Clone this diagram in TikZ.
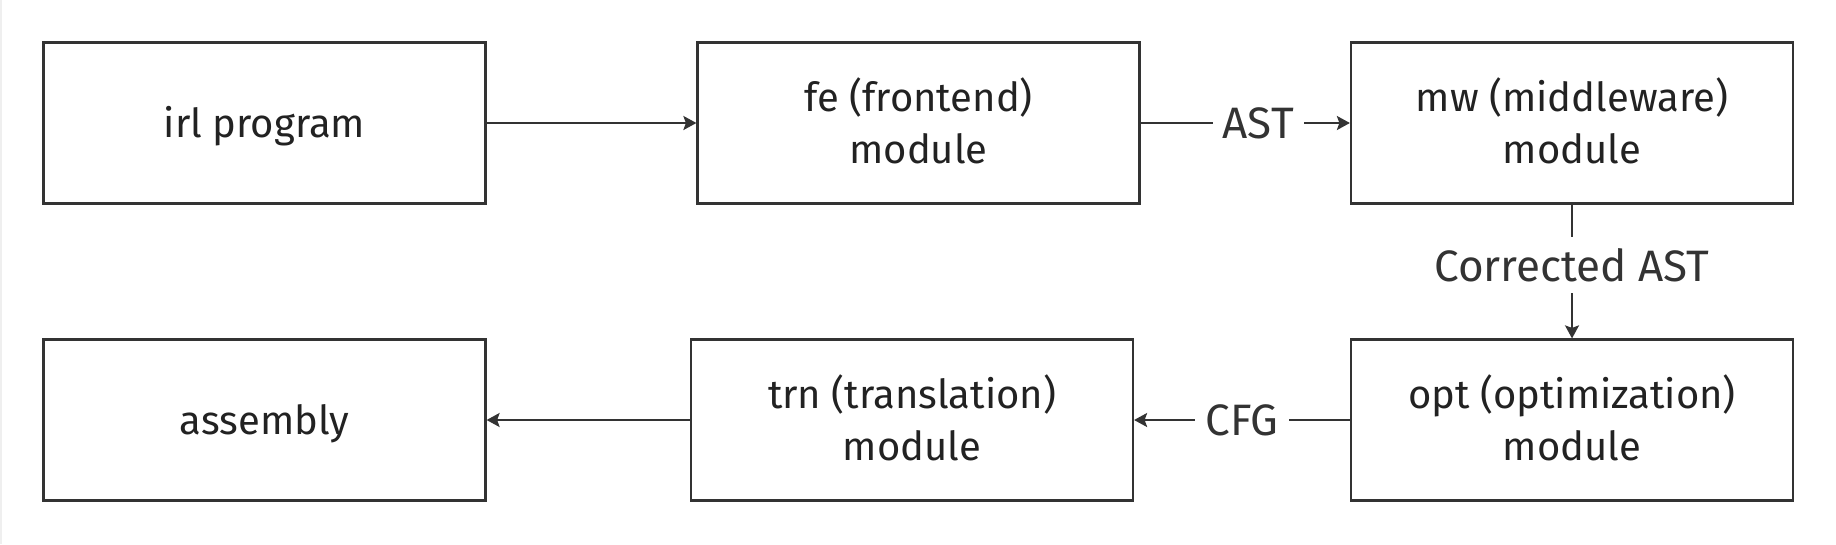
\documentclass[tikz,border=0pt]{standalone}
\usepackage{fontspec}
\setmainfont{Fira Sans}
\usetikzlibrary{arrows.meta}
\definecolor{ink}{HTML}{333333}
\definecolor{txt}{HTML}{222222}
\definecolor{edge}{HTML}{EFEFEF}
\newcommand{\onel}[1]{\raisebox{-14.3pt}[0pt][0pt]{#1}}
\newcommand{\twol}[2]{\raisebox{11.3pt}[0pt][0pt]{\begin{tabular}[t]{@{}c@{}}#1\\#2\end{tabular}}}
\begin{document}
\begin{tikzpicture}[x=1pt,y=-1pt,
  box/.style={draw=ink,line width=2.2pt,minimum width=450pt,minimum height=161pt,
    align=center,text=txt,font=\fontsize{40}{51.6}\selectfont,inner sep=0pt},
  conn/.style={draw=ink,line width=2pt,-{Stealth[length=13pt,width=14pt,inset=2.5pt]}},
  lbl/.style={fill=white,text=ink,font=\fontsize{44}{52}\selectfont,inner xsep=10pt,inner ysep=11pt}]
\useasboundingbox[fill=white] (0,0) rectangle (1836,544);
\draw[edge,line width=2pt] (1,0) -- (1,544);
\node[box,minimum width=442pt] (irl) at (264.5,123) {\onel{irl program}};
\node[box,minimum width=442pt] (fe) at (918.5,123) {\twol{fe (frontend)}{module}};
\node[box,minimum width=442pt] (mw) at (1572,123) {\twol{mw (middleware)}{module}};
\node[box,minimum width=442pt] (asm) at (264.5,420) {\onel{assembly}};
\node[box,minimum width=442pt] (trn) at (912,420) {\twol{trn (translation)}{module}};
\node[box,minimum width=442pt] (opt) at (1572,420) {\twol{opt (optimization)}{module}};
\draw[conn] (irl) -- (fe);
\draw[conn] (fe) -- node[lbl,pos=0.562] {AST} (mw);
\draw[conn] (mw) -- node[lbl,pos=0.453] {Corrected AST} (opt);
\draw[conn] (opt) -- node[lbl] {CFG} (trn);
\draw[conn] (trn) -- (asm);
\end{tikzpicture}
\end{document}
